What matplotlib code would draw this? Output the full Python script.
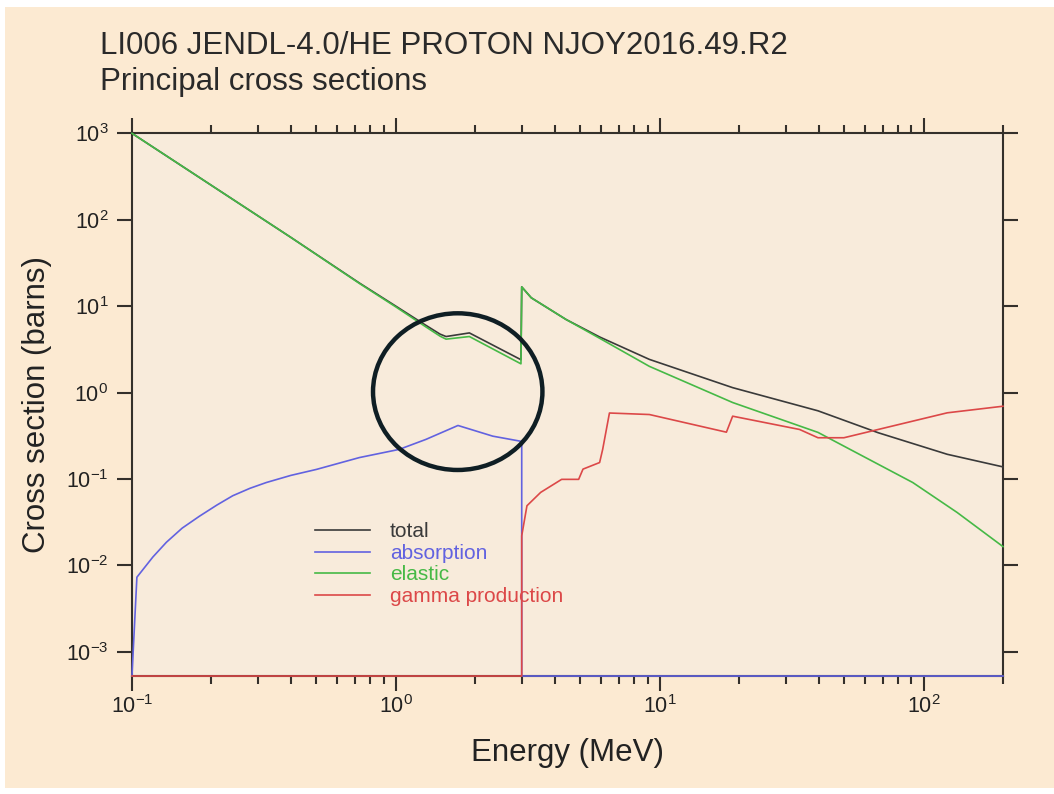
"""
Li-6 proton principal cross sections (JENDL-4.0/HE, NJOY2016.49.R2),
log-log plot with the circled region around 1-3 MeV.
"""
import numpy as np
import matplotlib
matplotlib.use('Agg')
import matplotlib.pyplot as plt
from matplotlib.patches import Ellipse, Rectangle
from matplotlib.ticker import (LogLocator, FixedLocator, FuncFormatter,
                               NullLocator, NullFormatter)

# ── data ──────────────────────────────────────────────────────────────────
E_TOTAL = [0.1, 0.2, 0.4, 0.728, 1.0, 1.3, 1.47, 1.55, 1.9, 2.98, 3.0,
           3.26, 4.42, 5.92, 9.14, 18.9, 39.8, 67.3, 123, 200]
TOTAL   = [1000, 250, 62.5, 18.5, 10.0, 6.0, 4.75, 4.45, 4.9, 2.4, 16.7,
           12.5, 7.0, 4.4, 2.42, 1.14, 0.615, 0.343, 0.193, 0.138]

E_ELASTIC = [0.1, 0.2, 0.4, 0.728, 1.0, 1.3, 1.47, 1.55, 1.9, 2.98, 3.0,
             3.26, 4.42, 5.92, 9.14, 18.9, 39.8, 49.9, 91, 134, 200]
ELASTIC   = [1000, 250, 62.5, 18.3, 9.8, 5.75, 4.5, 4.15, 4.45, 2.15, 16.7,
             12.5, 7.0, 4.25, 2.01, 0.767, 0.346, 0.240, 0.091, 0.041, 0.0165]

E_ABSORB = [0.1, 0.1044, 0.12, 0.135, 0.155, 0.18, 0.21, 0.241, 0.28, 0.323,
            0.40, 0.50, 0.728, 1.03, 1.30, 1.72, 2.33, 2.94, 3.0, 3.0, 200]
ABSORB   = [0, 0.0073, 0.0125, 0.0185, 0.027, 0.037, 0.050, 0.064, 0.078,
            0.091, 0.110, 0.129, 0.177, 0.22, 0.287, 0.416, 0.313, 0.275,
            0.27, 0, 0]

E_GAMMA = [0.1, 3.0, 3.0, 3.14, 3.54, 4.25, 4.93, 5.12, 5.92, 6.08, 6.45,
           9.14, 17.9, 18.9, 33.9, 39.8, 49.9, 67.3, 123, 200]
GAMMA   = [0, 0, 0.022, 0.049, 0.070, 0.099, 0.099, 0.130, 0.155, 0.22, 0.58,
           0.557, 0.348, 0.533, 0.374, 0.300, 0.300, 0.374, 0.583, 0.695]

TITLE1 = 'LI006 JENDL-4.0/HE PROTON NJOY2016.49.R2'
TITLE2 = 'Principal cross sections'

XLIM = (0.1, 200)
YLIM = (10 ** -3.28, 1e3)
X_DECADES = [-1, 0, 1, 2]
Y_DECADES = [-3, -2, -1, 0, 1, 2, 3]

# ── style ─────────────────────────────────────────────────────────────────
plt.rcParams['font.family'] = ['Liberation Sans', 'DejaVu Sans']
plt.rcParams['mathtext.fontset'] = 'custom'
plt.rcParams['mathtext.rm'] = 'Liberation Sans'
plt.rcParams['mathtext.it'] = 'Liberation Sans:italic'
plt.rcParams['mathtext.default'] = 'regular'

OUTER_BG = '#fcead2'
PLOT_BG  = '#f8ebdb'
INK      = '#34302b'
C_TOTAL, C_ABS, C_EL, C_GAM = '#3a3a3a', '#6262e0', '#46b946', '#dc4848'

fig = plt.figure(figsize=(10.54, 7.94), dpi=100, facecolor='white')
fig.patches.append(Rectangle((5 / 1054, 6 / 794), 1 - 5 / 1054, 1 - 13 / 794,
                             transform=fig.transFigure, fc=OUTER_BG,
                             ec='none', zorder=-10))

ax = fig.add_axes([0.1252, 0.1486, 0.8264, 0.6835])
ax.set_facecolor(PLOT_BG)
ax.set_xscale('log')
ax.set_yscale('log')
ax.set_xlim(*XLIM)
ax.set_ylim(*YLIM)


def floor(v):
    # zero cross sections are drawn on the lower frame, like the original
    return np.maximum(np.asarray(v, dtype=float), YLIM[0])


kw = dict(lw=1.2, clip_on=False, zorder=3)
ax.plot(E_TOTAL, floor(TOTAL), color=C_TOTAL, label='total', **kw)
ax.plot(E_ABSORB, floor(ABSORB), color=C_ABS, label='absorption', **kw)
ax.plot(E_ELASTIC, floor(ELASTIC), color=C_EL, label='elastic', **kw)
ax.plot(E_GAMMA, floor(GAMMA), color=C_GAM, label='gamma production', **kw)

# ── axes, ticks ───────────────────────────────────────────────────────────
for sp in ax.spines.values():
    sp.set_color(INK)
    sp.set_linewidth(1.5)

ax.xaxis.set_major_locator(FixedLocator(10.0 ** np.array(X_DECADES)))
ax.xaxis.set_minor_locator(LogLocator(base=10, subs=np.arange(2, 10), numticks=20))
ax.xaxis.set_minor_formatter(NullFormatter())
ax.yaxis.set_major_locator(FixedLocator(10.0 ** np.array(Y_DECADES)))
ax.yaxis.set_minor_locator(NullLocator())
fmt = FuncFormatter(lambda v, p: r'$10^{%d}$' % int(round(np.log10(v))))
ax.xaxis.set_major_formatter(fmt)
ax.yaxis.set_major_formatter(fmt)

ax.tick_params(which='both', direction='out', top=True, right=True,
               color=INK, width=1.5, labelcolor='#222222', labelsize=15.5)
ax.tick_params(which='major', length=11)
ax.tick_params(which='minor', length=6)
ax.tick_params(axis='x', pad=3)
ax.tick_params(axis='y', pad=6)

ax.set_xlabel('Energy (MeV)', fontsize=22.5, color='#222222', labelpad=14)
ax.set_ylabel('Cross section (barns)', fontsize=22.5, color='#222222', labelpad=10)

fig.text(100 / 1054, 1 - 54 / 794, TITLE1, fontsize=22.5, color='#2a2a2a',
         va='baseline', ha='left')
fig.text(100 / 1054, 1 - 90 / 794, TITLE2, fontsize=22.5, color='#2a2a2a',
         va='baseline', ha='left')

# ── legend ────────────────────────────────────────────────────────────────
ax.legend(loc='center left', bbox_to_anchor=(0.21, 0.206), frameon=False,
          fontsize=15, handlelength=2.64, handletextpad=0.95,
          labelspacing=0.12, borderpad=0, borderaxespad=0,
          labelcolor='linecolor')

# ── highlight circle ──────────────────────────────────────────────────────
ax.add_patch(Ellipse((0.374, 0.524), 0.1945, 0.2887, transform=ax.transAxes,
                     fill=False, lw=3.2, ec='#0f1e24', zorder=6, clip_on=False))

fig.savefig('out.png', dpi=100, facecolor=fig.get_facecolor())
